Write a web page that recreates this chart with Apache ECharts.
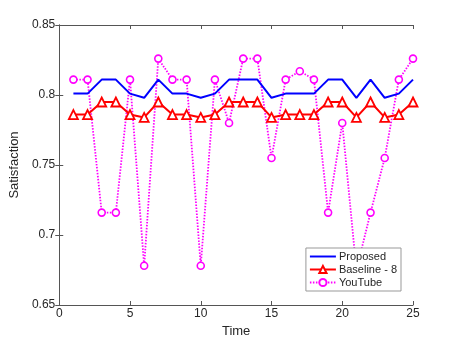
<!DOCTYPE html>
<html>
<head>
<meta charset="utf-8">
<script src="https://cdn.jsdelivr.net/npm/echarts@6/dist/echarts.min.js"></script>
<style>
  html, body { margin: 0; padding: 0; background: #fff; }
  #chart { width: 457px; height: 343px; }
</style>
</head>
<body>
<div id="chart"></div>
<script>
// 数据
var times = [1,2,3,4,5,6,7,8,9,10,11,12,13,14,15,16,17,18,19,20,21,22,23,24,25];
var proposed = [0.801,0.801,0.811,0.811,0.801,0.798,0.811,0.801,0.801,0.798,0.801,0.811,0.811,0.811,0.798,0.801,0.801,0.801,0.811,0.811,0.798,0.811,0.798,0.801,0.811];
var baseline8 = [0.786,0.786,0.795,0.795,0.786,0.784,0.795,0.786,0.786,0.784,0.786,0.795,0.795,0.795,0.784,0.786,0.786,0.786,0.795,0.795,0.784,0.795,0.784,0.786,0.795];
var youtube = [0.811,0.811,0.716,0.716,0.811,0.678,0.826,0.811,0.811,0.678,0.811,0.780,0.826,0.826,0.755,0.811,0.817,0.811,0.716,0.780,0.675,0.716,0.755,0.811,0.826];
var xTicks = [0, 25, 5];
var yTicks = [0.65, 0.85, 0.05];

function pairs(ys) {
    return times.map(function (t, i) { return [t, ys[i]]; });
}

var font = 'Liberation Sans, Arial, sans-serif';
var axisCol = '#555';
var txtCol = '#262626';

var myChart = echarts.init(document.getElementById('chart'));
var option = {
    animation: false,
    textStyle: { fontFamily: font },
    grid: { left: 59, right: 44, top: 25, bottom: 38 },
    legend: {
        right: 56, bottom: 52,
        orient: 'vertical',
        itemGap: 2,
        itemWidth: 26, itemHeight: 9,
        padding: [3, 4, 3, 3],
        backgroundColor: '#fff',
        borderColor: '#999', borderWidth: 1,
        textStyle: { fontSize: 11, color: txtCol, fontFamily: font, padding: [0, 0, 0, -2] },
        data: [
            { name: 'Proposed', icon: 'path://M0,0 H40 V3 H0 Z' },
            'Baseline - 8',
            'YouTube'
        ]
    },
    xAxis: [{
        type: 'value', min: xTicks[0], max: xTicks[1], interval: xTicks[2],
        name: 'Time', nameLocation: 'middle', nameGap: 20,
        nameTextStyle: { fontSize: 13, color: txtCol },
        axisLine: { lineStyle: { color: axisCol } },
        axisTick: { inside: true, length: 4, lineStyle: { color: axisCol } },
        axisLabel: { fontSize: 12, color: txtCol, margin: 3 },
        splitLine: { show: false }
    }, {
        type: 'value', position: 'top', min: xTicks[0], max: xTicks[1], interval: xTicks[2],
        axisLine: { lineStyle: { color: axisCol } },
        axisTick: { inside: true, length: 4, lineStyle: { color: axisCol } },
        axisLabel: { show: false },
        splitLine: { show: false }
    }],
    yAxis: [{
        type: 'value', min: yTicks[0], max: yTicks[1], interval: yTicks[2],
        name: 'Satisfaction', nameLocation: 'middle', nameGap: 38,
        nameTextStyle: { fontSize: 13, color: txtCol },
        axisLine: { show: true, lineStyle: { color: axisCol } },
        axisTick: { show: true, inside: true, length: 4, lineStyle: { color: axisCol } },
        axisLabel: { fontSize: 12, color: txtCol, margin: 4 },
        splitLine: { show: false }
    }, {
        type: 'value', position: 'right', min: yTicks[0], max: yTicks[1], interval: yTicks[2],
        axisLine: { show: true, lineStyle: { color: axisCol } },
        axisTick: { show: true, inside: true, length: 4, lineStyle: { color: axisCol } },
        axisLabel: { show: false },
        splitLine: { show: false }
    }],
    series: [
        {
            name: 'Proposed', type: 'line', data: pairs(proposed),
            showSymbol: false, symbol: 'none',
            itemStyle: { color: '#0000ff' },
            lineStyle: { color: '#0000ff', width: 2 },
            z: 3
        },
        {
            name: 'Baseline - 8', type: 'line', data: pairs(baseline8),
            symbol: 'triangle', symbolSize: 9,
            itemStyle: { color: '#fff', borderColor: '#ff0000', borderWidth: 1.8 },
            lineStyle: { color: '#ff0000', width: 2 },
            z: 4
        },
        {
            name: 'YouTube', type: 'line', data: pairs(youtube),
            symbol: 'circle', symbolSize: 7,
            itemStyle: { color: '#fff', borderColor: '#ff00ff', borderWidth: 1.6 },
            lineStyle: { color: '#ff00ff', width: 1.8, type: [1.5, 1.5] },
            z: 2
        }
    ]
};
myChart.setOption(option);
</script>
</body>
</html>
